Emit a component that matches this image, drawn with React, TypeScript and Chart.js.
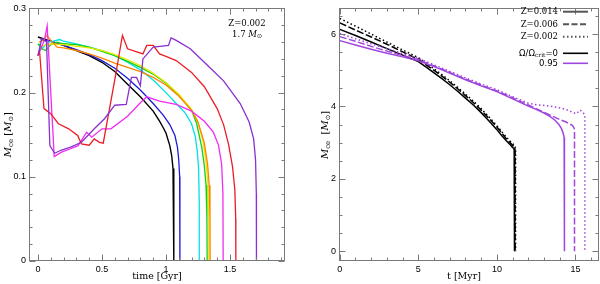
import React, { useEffect, useRef } from "react";
import { Chart, registerables } from "chart.js";
Chart.register(...registerables);

// ---------- Left panel (Z=0.002, 1.7 Msun) ----------
const LX_TICKS = [0, 0.5, 1, 1.5];
const LY_TICKS = [0, 0.1, 0.2, 0.3];

const blackT = [0, 0.1, 0.2, 0.3, 0.4, 0.5, 0.6, 0.7, 0.8, 0.9, 0.95, 0.98, 1.0, 1.03, 1.045, 1.055, 1.06, 1.062, 1.062];
const blackM = [0.266, 0.261, 0.256, 0.25, 0.244, 0.236, 0.225, 0.21, 0.195, 0.178, 0.166, 0.158, 0.152, 0.137, 0.125, 0.11, 0.09, 0.05, 0];

const blueT = [0.02, 0.1, 0.2, 0.3, 0.4, 0.5, 0.6, 0.7, 0.8, 0.9, 0.98, 1.03, 1.07, 1.09, 1.1, 1.107, 1.109, 1.109];
const blueM = [0.263, 0.261, 0.256, 0.251, 0.245, 0.238, 0.229, 0.217, 0.203, 0.187, 0.173, 0.162, 0.149, 0.135, 0.12, 0.1, 0.06, 0];

const cyanT = [0.01, 0.03, 0.05, 0.08, 0.12, 0.17, 0.2, 0.3, 0.4, 0.5, 0.6, 0.7, 0.8, 0.9, 1.0, 1.08, 1.15, 1.2, 1.23, 1.245, 1.255, 1.26, 1.26];
const cyanM = [0.258, 0.252, 0.255, 0.26, 0.261, 0.263, 0.261, 0.258, 0.254, 0.25, 0.244, 0.236, 0.227, 0.215, 0.2, 0.187, 0.176, 0.163, 0.147, 0.13, 0.11, 0.07, 0];

const greenT = [0, 0.03, 0.06, 0.1, 0.15, 0.2, 0.3, 0.4, 0.5, 0.6, 0.7, 0.8, 0.9, 1.0, 1.1, 1.2, 1.24, 1.28, 1.3, 1.313, 1.32, 1.322];
const greenM = [0.258, 0.252, 0.25, 0.257, 0.26, 0.258, 0.257, 0.254, 0.249, 0.244, 0.237, 0.23, 0.222, 0.211, 0.197, 0.179, 0.163, 0.135, 0.113, 0.09, 0.05, 0];

const yellowT = [0.02, 0.1, 0.2, 0.3, 0.4, 0.5, 0.6, 0.7, 0.8, 0.9, 1.0, 1.1, 1.2, 1.25, 1.29, 1.315, 1.328, 1.334, 1.335];
const yellowM = [0.255, 0.258, 0.257, 0.255, 0.253, 0.25, 0.245, 0.239, 0.232, 0.223, 0.212, 0.198, 0.18, 0.165, 0.142, 0.115, 0.09, 0.05, 0];

const orangeT = [0.01, 0.04, 0.07, 0.1, 0.15, 0.2, 0.3, 0.4, 0.5, 0.6, 0.7, 0.8, 0.9, 1.0, 1.1, 1.2, 1.25, 1.3, 1.325, 1.338, 1.344, 1.345];
const orangeM = [0.26, 0.262, 0.268, 0.262, 0.254, 0.253, 0.25, 0.246, 0.241, 0.235, 0.23, 0.225, 0.218, 0.209, 0.196, 0.179, 0.165, 0.14, 0.115, 0.09, 0.05, 0];

const magentaT = [0.0, 0.03, 0.05, 0.072, 0.1, 0.127, 0.18, 0.25, 0.314, 0.38, 0.42, 0.5, 0.57, 0.7, 0.8, 0.85, 0.95, 1.08, 1.2, 1.3, 1.37, 1.41, 1.435, 1.445, 1.447];
const magentaM = [0.244, 0.255, 0.262, 0.279, 0.2, 0.124, 0.129, 0.133, 0.137, 0.153, 0.147, 0.157, 0.157, 0.172, 0.188, 0.195, 0.19, 0.186, 0.178, 0.166, 0.153, 0.138, 0.115, 0.08, 0];

const redT = [0.0, 0.012, 0.047, 0.1, 0.16, 0.24, 0.31, 0.34, 0.4, 0.44, 0.48, 0.51, 0.6, 0.66, 0.7, 0.76, 0.82, 0.85, 0.9, 0.95, 1.0, 1.08, 1.2, 1.3, 1.4, 1.45, 1.49, 1.52, 1.538, 1.545, 1.546];
const redM = [0.244, 0.25, 0.181, 0.175, 0.163, 0.157, 0.149, 0.139, 0.1375, 0.145, 0.141, 0.14, 0.215, 0.268, 0.252, 0.249, 0.246, 0.256, 0.256, 0.246, 0.243, 0.238, 0.224, 0.207, 0.181, 0.162, 0.138, 0.112, 0.085, 0.05, 0];

const purpleT = [0.0, 0.03, 0.067, 0.093, 0.13, 0.18, 0.26, 0.34, 0.44, 0.52, 0.6, 0.69, 0.73, 0.77, 0.8, 0.82, 0.9, 1.02, 1.04, 1.08, 1.19, 1.34, 1.45, 1.58, 1.65, 1.685, 1.7, 1.706, 1.707];
const purpleM = [0.244, 0.264, 0.26, 0.137, 0.128, 0.1315, 0.1355, 0.141, 0.157, 0.169, 0.185, 0.186, 0.218, 0.218, 0.208, 0.24, 0.254, 0.256, 0.265, 0.262, 0.252, 0.23, 0.214, 0.187, 0.165, 0.145, 0.12, 0.08, 0];

// ---------- Right panel ----------
const RX_TICKS = [0, 5, 10, 15];
const RY_TICKS = [0, 2, 4, 6];

const bkSolidT = [0, 1, 2, 3, 4, 5, 5.5, 6, 6.5, 7, 7.5, 8, 8.5, 9, 9.5, 10, 10.3, 10.6, 10.85, 11.0, 11.1, 11.12, 11.12];
const bkSolidM = [6.13, 5.96, 5.78, 5.6, 5.42, 5.24, 5.09, 4.93, 4.77, 4.6, 4.42, 4.23, 4.04, 3.83, 3.6, 3.36, 3.2, 3.05, 2.94, 2.87, 2.82, 2.7, 0];

const bkDashT = [0, 1, 2, 3, 4, 5, 5.5, 6, 6.5, 7, 7.5, 8, 8.5, 9, 9.5, 10, 10.3, 10.6, 10.85, 11.0, 11.13, 11.16, 11.16];
const bkDashM = [6.31, 6.11, 5.92, 5.72, 5.51, 5.3, 5.15, 5.0, 4.84, 4.67, 4.49, 4.3, 4.11, 3.9, 3.67, 3.43, 3.27, 3.11, 3.0, 2.93, 2.88, 2.75, 0];

const bkDotT = [0, 1, 2, 3, 4, 5, 5.5, 6, 6.5, 7, 7.5, 8, 8.5, 9, 9.5, 10, 10.3, 10.6, 10.85, 11.0, 11.15, 11.19, 11.19];
const bkDotM = [6.43, 6.22, 6.0, 5.78, 5.56, 5.35, 5.2, 5.04, 4.88, 4.71, 4.53, 4.34, 4.15, 3.94, 3.71, 3.47, 3.31, 3.15, 3.04, 2.97, 2.92, 2.78, 0];

const puSolidT = [0, 1, 2, 3, 4, 5, 6, 7, 8, 9, 10, 11, 12, 12.5, 13, 13.4, 13.7, 13.95, 14.12, 14.22, 14.28, 14.3, 14.3];
const puSolidM = [5.82, 5.7, 5.58, 5.47, 5.37, 5.26, 5.1, 4.92, 4.74, 4.57, 4.41, 4.21, 4.01, 3.92, 3.82, 3.72, 3.62, 3.5, 3.38, 3.26, 3.15, 3.08, 0];

const puDashT = [0, 1, 2, 3, 4, 5, 6, 7, 8, 9, 10, 11, 12, 12.5, 13, 13.5, 14, 14.4, 14.8, 14.92, 14.94, 14.94];
const puDashM = [5.93, 5.8, 5.66, 5.53, 5.41, 5.29, 5.12, 4.94, 4.76, 4.59, 4.43, 4.24, 4.04, 3.94, 3.84, 3.74, 3.64, 3.57, 3.48, 3.4, 3.3, 0];

const puDotT = [0, 1, 2, 3, 4, 5, 6, 7, 8, 9, 10, 11, 12, 12.5, 13, 13.5, 14, 14.4, 14.8, 15.05, 15.3, 15.45, 15.58, 15.6, 15.6];
const puDotM = [6.02, 5.87, 5.73, 5.6, 5.46, 5.33, 5.15, 4.97, 4.79, 4.62, 4.46, 4.27, 4.09, 4.05, 4.03, 4.0, 3.96, 3.92, 3.84, 3.8, 3.9, 3.85, 3.78, 3.7, 0];

const LEGEND_Z = ["Z=0.014", "Z=0.006", "Z=0.002"];

const PURPLE_R = "#a046de";
const DASH = [7, 2.5];
const DOT = [1.5, 2.5];

const pts = (t: number[], m: number[]) => t.map((x, i) => ({ x, y: m[i] }));

const SANS = "'Liberation Sans', Arial, sans-serif";
const SERIF = "'DejaVu Serif', serif";

type Seg = { t: string; f: string; dy?: number };

function segWidth(ctx: CanvasRenderingContext2D, segs: Seg[]) {
  let w = 0;
  for (const s of segs) {
    ctx.font = s.f;
    w += ctx.measureText(s.t).width;
  }
  return w;
}

function drawRich(ctx: CanvasRenderingContext2D, segs: Seg[], x: number, y: number, align: "left" | "center" | "right", rot = 0) {
  ctx.save();
  ctx.translate(x, y);
  if (rot) ctx.rotate(rot);
  const w = segWidth(ctx, segs);
  let cx = align === "left" ? 0 : align === "center" ? -w / 2 : -w;
  ctx.textBaseline = "middle";
  ctx.textAlign = "left";
  ctx.fillStyle = "#000";
  for (const s of segs) {
    ctx.font = s.f;
    ctx.fillText(s.t, cx, s.dy || 0);
    cx += ctx.measureText(s.t).width;
  }
  ctx.restore();
}

function framePlugin(xMinor: number, yMinor: number, extra: (ctx: CanvasRenderingContext2D, chart: any) => void) {
  return {
    id: "frame",
    afterDraw(chart: any) {
      const { ctx, chartArea: a, scales } = chart;
      const xs = scales.x, ys = scales.y;
      ctx.save();
      ctx.strokeStyle = "#7a7a7a";
      ctx.lineWidth = 1;
      const L = Math.round(a.left) + 0.5, R = Math.round(a.right) - 0.5;
      const T = Math.round(a.top) + 0.5, B = Math.round(a.bottom) - 0.5;
      ctx.strokeRect(L, T, R - L, B - T);
      const majX = xs.ticks.map((t: any) => t.value);
      const majY = ys.ticks.map((t: any) => t.value);
      const isMaj = (v: number, arr: number[], step: number) => arr.some((m) => Math.abs(m - v) < step * 0.01);
      ctx.beginPath();
      for (let i = Math.ceil(xs.min / xMinor - 1e-9); i * xMinor <= xs.max + 1e-9; i++) {
        const v = i * xMinor;
        const len = isMaj(v, majX, xMinor) ? 6 : 3;
        const px = Math.round(xs.getPixelForValue(v)) + 0.5;
        ctx.moveTo(px, B); ctx.lineTo(px, B - len);
        ctx.moveTo(px, T); ctx.lineTo(px, T + len);
      }
      for (let i = Math.ceil(ys.min / yMinor - 1e-9); i * yMinor <= ys.max + 1e-9; i++) {
        const v = i * yMinor;
        const len = isMaj(v, majY, yMinor) ? 6 : 3;
        const py = Math.round(ys.getPixelForValue(v)) + 0.5;
        ctx.moveTo(L, py); ctx.lineTo(L + len, py);
        ctx.moveTo(R, py); ctx.lineTo(R - len, py);
      }
      ctx.stroke();
      ctx.restore();
      ctx.save();
      extra(ctx, chart);
      ctx.restore();
    },
  };
}

function baseOptions(p: {
  xmin: number; xmax: number; ymin: number; ymax: number;
  xt: number[]; yt: number[]; yw: number; xh: number; pad: any;
}) {
  return {
    animation: false,
    responsive: false,
    maintainAspectRatio: false,
    events: [],
    layout: { padding: p.pad },
    plugins: { legend: { display: false }, tooltip: { enabled: false } },
    elements: { point: { radius: 0 }, line: { tension: 0 } },
    scales: {
      x: {
        type: "linear",
        min: p.xmin,
        max: p.xmax,
        afterFit: (s: any) => { s.height = p.xh; },
        afterBuildTicks: (s: any) => { s.ticks = p.xt.map((v) => ({ value: v })); },
        grid: { display: false, drawTicks: false },
        border: { display: false },
        ticks: { color: "#000", font: { family: SANS, size: 9 }, padding: 3, maxRotation: 0, autoSkip: false, callback: (v: any) => String(v) },
      },
      y: {
        type: "linear",
        min: p.ymin,
        max: p.ymax,
        afterFit: (s: any) => { s.width = p.yw; },
        afterBuildTicks: (s: any) => { s.ticks = p.yt.map((v) => ({ value: v })); },
        grid: { display: false, drawTicks: false },
        border: { display: false },
        ticks: { color: "#000", font: { family: SANS, size: 9 }, padding: 3, autoSkip: false, callback: (v: any) => String(v) },
      },
    },
  };
}

const line = (t: number[], m: number[], color: string, width: number, dash: number[] = []) => ({
  data: pts(t, m),
  showLine: true,
  borderColor: color,
  backgroundColor: color,
  borderWidth: width,
  borderDash: dash,
  pointRadius: 0,
  fill: false,
});

function LeftChart() {
  const ref = useRef<HTMLCanvasElement>(null);
  useEffect(() => {
    const datasets = [
      line(purpleT, purpleM, "#8a2fcf", 1.3),
      line(redT, redM, "#ec1c24", 1.3),
      line(magentaT, magentaM, "#f02cf0", 1.3),
      line(orangeT, orangeM, "#ff8400", 1.3),
      line(yellowT, yellowM, "#e8e800", 1.3),
      line(greenT, greenM, "#12d012", 1.3),
      line(cyanT, cyanM, "#00e0e8", 1.3),
      line(blueT, blueM, "#1c1cd6", 1.3),
      line(blackT, blackM, "#000000", 1.4),
    ];
    const extra = (ctx: CanvasRenderingContext2D, chart: any) => {
      const a = chart.chartArea;
      const it = "italic 10px " + SERIF;
      const nf = "10px " + SERIF;
      const sub = "7px " + SERIF;
      drawRich(ctx, [{ t: "Z=0.002", f: "8.5px " + SERIF }], a.right - 38, a.top + 15, "center");
      drawRich(ctx, [{ t: "1.7 ", f: "8.5px " + SERIF }, { t: "M", f: "italic 8.5px " + SERIF }, { t: "⊙", f: "6px 'DejaVu Sans'", dy: 2.5 }], a.right - 38, a.top + 26, "center");
      drawRich(ctx, [{ t: "time [Gyr]", f: "9.5px " + SERIF }], (a.left + a.right) / 2, 277, "center");
      drawRich(ctx, [
        { t: "M", f: it }, { t: "ce", f: sub, dy: 3 }, { t: " [", f: nf }, { t: "M", f: it }, { t: "⊙", f: "6.5px 'DejaVu Sans'", dy: 3 }, { t: "]", f: nf },
      ], 8, (a.top + a.bottom) / 2, "center", -Math.PI / 2);
    };
    const chart = new Chart(ref.current!, {
      type: "scatter",
      data: { datasets } as any,
      options: baseOptions({ xmin: -0.07, xmax: 1.93, ymin: 0, ymax: 0.3, xt: LX_TICKS, yt: LY_TICKS, yw: 29, xh: 23, pad: { left: 0, right: 15, top: 7, bottom: 0 } }) as any,
      plugins: [framePlugin(0.1, 0.02, extra)],
    });
    return () => chart.destroy();
  }, []);
  return <canvas ref={ref} width={300} height={284} style={{ position: "absolute", left: 0, top: 0, width: 300, height: 284 }} />;
}

function RightChart() {
  const ref = useRef<HTMLCanvasElement>(null);
  useEffect(() => {
    const datasets = [
      line(puDotT, puDotM, PURPLE_R, 1.5, DOT),
      line(puDashT, puDashM, PURPLE_R, 1.5, DASH),
      line(puSolidT, puSolidM, PURPLE_R, 1.5),
      line(bkDotT, bkDotM, "#000", 1.5, DOT),
      line(bkDashT, bkDashM, "#000", 1.5, DASH),
      line(bkSolidT, bkSolidM, "#000", 1.5),
    ];
    const extra = (ctx: CanvasRenderingContext2D, chart: any) => {
      const lf = "8.5px " + SERIF;
      const tx = 258; // right edge of legend text (canvas coords)
      const x0 = 263, x1 = 288;
      const rows = [11.7, 24.3, 36.7];
      const dashes = [[], [6, 2.5], [1.5, 2.5]];
      LEGEND_Z.forEach((s, i) => {
        drawRich(ctx, [{ t: s, f: lf }], tx, rows[i], "right");
        ctx.save();
        ctx.strokeStyle = "#555";
        ctx.lineWidth = 2;
        ctx.setLineDash(dashes[i]);
        ctx.beginPath(); ctx.moveTo(x0, rows[i]); ctx.lineTo(x1, rows[i]); ctx.stroke();
        ctx.restore();
      });
      drawRich(ctx, [
        { t: "Ω/Ω", f: "8.5px 'DejaVu Sans'" }, { t: "crit", f: "6px " + SERIF, dy: 2.5 }, { t: "=0", f: "8.5px 'DejaVu Sans'" },
      ], tx, 53.3, "right");
      drawRich(ctx, [{ t: "0.95", f: "8.5px 'DejaVu Sans'" }], tx, 63.3, "right");
      ctx.save();
      ctx.lineWidth = 1.6;
      ctx.strokeStyle = "#000";
      ctx.beginPath(); ctx.moveTo(x0, 53.3); ctx.lineTo(x1, 53.3); ctx.stroke();
      ctx.strokeStyle = PURPLE_R;
      ctx.beginPath(); ctx.moveTo(x0, 63.3); ctx.lineTo(x1, 63.3); ctx.stroke();
      ctx.restore();
      const it = "italic 10px " + SERIF;
      const nf = "10px " + SERIF;
      const sub = "7px " + SERIF;
      drawRich(ctx, [{ t: "t [Myr]", f: "9.5px " + SERIF }], 164, 277, "center");
      drawRich(ctx, [
        { t: "M", f: it }, { t: "ce", f: sub, dy: 3 }, { t: "  [", f: nf }, { t: "M", f: it }, { t: "⊙", f: "6.5px 'DejaVu Sans'", dy: 3 }, { t: "]", f: nf },
      ], 25, 135, "center", -Math.PI / 2);
    };
    const chart = new Chart(ref.current!, {
      type: "scatter",
      data: { datasets } as any,
      options: baseOptions({ xmin: -0.05, xmax: 16.5, ymin: -0.27, ymax: 6.71, xt: RX_TICKS, yt: RY_TICKS, yw: 39, xh: 23, pad: { left: 0, right: 1, top: 0, bottom: 0 } }) as any,
      plugins: [framePlugin(1, 0.5, extra)],
    });
    return () => chart.destroy();
  }, []);
  return <canvas ref={ref} width={300} height={284} style={{ position: "absolute", left: 300, top: 0, width: 300, height: 284 }} />;
}

export default function App() {
  return (
    <div style={{ position: "absolute", left: 0, top: 0, width: 600, height: 284, background: "#fff", overflow: "hidden" }}>
      <LeftChart />
      <RightChart />
    </div>
  );
}
